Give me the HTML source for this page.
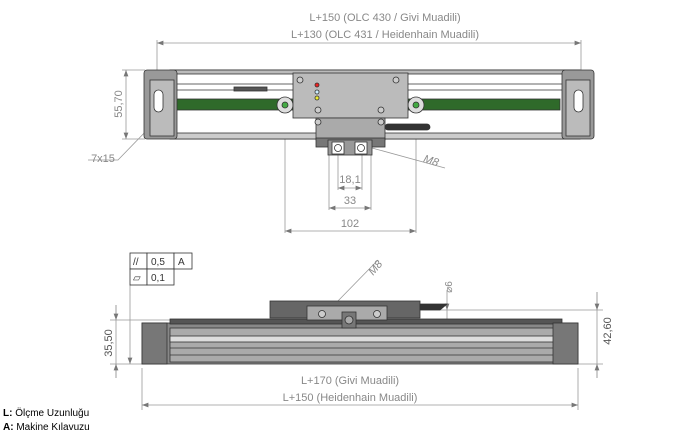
<!DOCTYPE html><html><head><style>body{margin:0;background:#fff}svg{display:block}</style></head><body>
<svg width="695" height="447" viewBox="0 0 695 447" font-family="Liberation Sans, sans-serif">
<defs><marker id="a" markerWidth="8" markerHeight="6" refX="8" refY="3" orient="auto-start-reverse"><path d="M0,0L8,3L0,6z" fill="#777"/></marker></defs>
<g stroke="#999" stroke-width="0.8" fill="none">
<line x1="157" y1="43" x2="581" y2="43" marker-start="url(#a)" marker-end="url(#a)"/>
<line x1="157" y1="40" x2="157" y2="100"/><line x1="581" y1="40" x2="581" y2="100"/>
<line x1="126" y1="70" x2="126" y2="139" marker-start="url(#a)" marker-end="url(#a)"/>
<line x1="122" y1="70" x2="145" y2="70"/><line x1="122" y1="139" x2="145" y2="139"/>
<line x1="338" y1="155" x2="338" y2="190"/><line x1="362" y1="155" x2="362" y2="190"/>
<line x1="338" y1="188" x2="362" y2="188" marker-start="url(#a)" marker-end="url(#a)"/>
<line x1="329" y1="155" x2="329" y2="210"/><line x1="371" y1="155" x2="371" y2="210"/>
<line x1="329" y1="208" x2="371" y2="208" marker-start="url(#a)" marker-end="url(#a)"/>
<line x1="285" y1="108" x2="285" y2="233"/><line x1="416" y1="108" x2="416" y2="233"/>
<line x1="285" y1="231" x2="416" y2="231" marker-start="url(#a)" marker-end="url(#a)"/>
<polyline points="88,160 118,160 152,125"/>
<line x1="372" y1="148" x2="445" y2="168"/>
<line x1="142" y1="368" x2="142" y2="410"/><line x1="578" y1="368" x2="578" y2="410"/>
<line x1="142" y1="405" x2="578" y2="405" marker-start="url(#a)" marker-end="url(#a)"/>
<line x1="116" y1="305" x2="116" y2="378" /><line x1="116" y1="305" x2="116" y2="320" marker-end="url(#a)"/><line x1="116" y1="378" x2="116" y2="364" marker-end="url(#a)"/>
<line x1="110" y1="320" x2="170" y2="320"/><line x1="110" y1="364" x2="145" y2="364"/>
<line x1="130" y1="285" x2="130" y2="364" marker-end="url(#a)"/>
<line x1="597" y1="292" x2="597" y2="378"/><line x1="597" y1="292" x2="597" y2="310" marker-end="url(#a)"/><line x1="597" y1="378" x2="597" y2="364" marker-end="url(#a)"/>
<line x1="420" y1="310" x2="603" y2="310"/><line x1="578" y1="364" x2="603" y2="364"/>
<line x1="447" y1="290" x2="447" y2="310" marker-end="url(#a)"/><line x1="447" y1="310" x2="447" y2="325"/>
<line x1="335" y1="304" x2="378" y2="260"/>
</g>
<g fill="#888" font-size="11" text-anchor="middle">
<text x="385" y="21">L+150 (OLC 430 / Givi Muadili)</text>
<text x="385" y="38">L+130 (OLC 431 / Heidenhain Muadili)</text>
<text x="350" y="183">18,1</text><text x="350" y="204">33</text><text x="350" y="227">102</text>
<text x="350" y="384">L+170 (Givi Muadili)</text><text x="350" y="401">L+150 (Heidenhain Muadili)</text>
<text x="103" y="162">7x15</text>
<text transform="translate(430,164) rotate(18)" font-style="italic">M8</text>
<text transform="translate(122,104) rotate(-90)">55,70</text>
<text transform="translate(112,343) rotate(-90)" fill="#555">35,50</text>
<text transform="translate(611,331) rotate(-90)" fill="#555">42,60</text>
<text transform="translate(378,270) rotate(-50)" font-style="italic">M8</text>
<text transform="translate(452,287) rotate(-90)" font-size="10">⌀6</text>
</g>
<!-- top view -->
<g stroke="#333" stroke-width="0.8">
<rect x="170" y="70" width="410" height="69" fill="#fff"/>
<rect x="170" y="70" width="410" height="4" fill="#bbb"/>
<line x1="170" y1="84" x2="580" y2="84"/><line x1="170" y1="90" x2="580" y2="90"/>
<rect x="172" y="99" width="388" height="11" fill="#2f6a2a"/>
<rect x="170" y="133" width="410" height="6" fill="#ccc"/>
<rect x="144" y="70" width="33" height="69" rx="3" fill="#999"/>
<rect x="150" y="80" width="24" height="56" fill="#bbb"/>
<rect x="154" y="90" width="9" height="22" rx="4.5" fill="#fff"/>
<rect x="562" y="70" width="32" height="69" rx="3" fill="#999"/>
<rect x="566" y="80" width="24" height="56" fill="#bbb"/>
<rect x="574" y="90" width="9" height="22" rx="4.5" fill="#fff"/>
<rect x="234" y="87" width="33" height="4" fill="#555"/>
<circle cx="285" cy="105" r="8" fill="#ddd"/><circle cx="416" cy="105" r="8" fill="#ddd"/>
<circle cx="285" cy="105" r="3" fill="#4a4"/><circle cx="416" cy="105" r="3" fill="#4a4"/>
<rect x="293" y="73" width="115" height="45" fill="#bbb"/>
<rect x="316" y="118" width="69" height="22" fill="#aaa"/>
<rect x="385" y="124" width="45" height="6" rx="3" fill="#333"/>
<rect x="316" y="138" width="69" height="9" fill="#777"/>
<rect x="328" y="140" width="44" height="15" fill="#999"/>
<rect x="332" y="142" width="12" height="12" fill="#fff"/><rect x="355" y="142" width="12" height="12" fill="#fff"/>
<circle cx="338" cy="148" r="3.5" fill="#fff"/><circle cx="361" cy="148" r="3.5" fill="#fff"/>
<circle cx="300" cy="80" r="3" fill="#ccc"/><circle cx="396" cy="80" r="3" fill="#ccc"/>
<circle cx="318" cy="110" r="3" fill="#ccc"/><circle cx="381" cy="110" r="3" fill="#ccc"/>
<circle cx="318" cy="122" r="3" fill="#ccc"/><circle cx="381" cy="122" r="3" fill="#ccc"/>
<circle cx="317" cy="85" r="2" fill="#e22"/><circle cx="317" cy="92" r="2" fill="#cef"/><circle cx="317" cy="98" r="2" fill="#ee3"/>
</g>
<!-- bottom view -->
<g stroke="#333" stroke-width="0.8">
<rect x="142" y="323" width="436" height="41" fill="#888"/>
<rect x="170" y="328" width="392" height="34" fill="#aaa"/>
<rect x="170" y="336" width="392" height="6" fill="#ddd"/>
<line x1="170" y1="348" x2="562" y2="348"/><line x1="170" y1="355" x2="562" y2="355"/>
<rect x="170" y="319" width="392" height="5" fill="#555"/>
<rect x="142" y="323" width="25" height="41" fill="#777"/>
<rect x="553" y="323" width="25" height="41" fill="#777"/>
<rect x="270" y="301" width="150" height="17" fill="#666"/>
<rect x="307" y="306" width="80" height="14" fill="#aaa"/>
<circle cx="322" cy="314" r="3.5" fill="#ccc"/><circle cx="377" cy="314" r="3.5" fill="#ccc"/>
<rect x="342" y="312" width="14" height="16" fill="#777"/><circle cx="349" cy="320" r="4" fill="#aaa"/>
<path d="M420 304 L447 304 L440 310 L420 310z" fill="#333"/>
</g>
<g stroke="#333" stroke-width="0.8" fill="#fff">
<rect x="130" y="253" width="17" height="16"/><rect x="147" y="253" width="27" height="16"/><rect x="174" y="253" width="18" height="16"/>
<rect x="130" y="269" width="17" height="16"/><rect x="147" y="269" width="27" height="16"/>
</g>
<g font-size="10" fill="#333"><text x="133" y="265">//</text><text x="151" y="265">0,5</text><text x="178" y="265">A</text>
<text x="133" y="281">▱</text><text x="151" y="281">0,1</text></g>
<g font-size="10" fill="#000"><text x="3" y="416"><tspan font-weight="bold">L:</tspan> Ölçme Uzunluğu</text><text x="3" y="430"><tspan font-weight="bold">A:</tspan> Makine Kılavuzu</text></g>
</svg></body></html>
